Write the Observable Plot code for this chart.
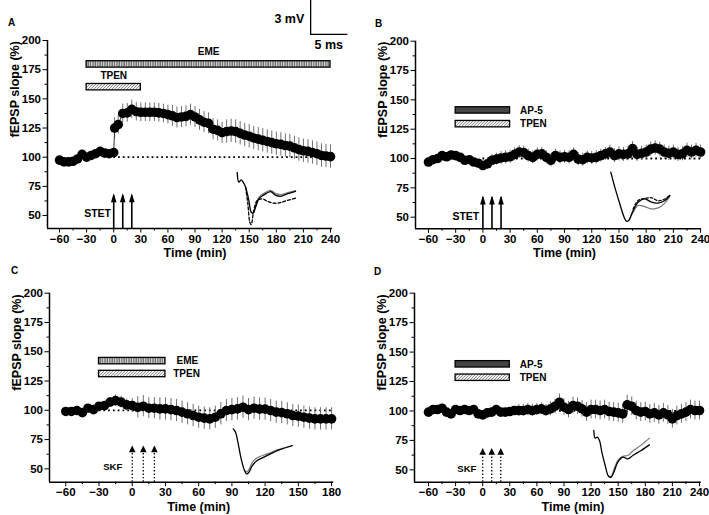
<!DOCTYPE html>
<html><head><meta charset="utf-8">
<script src="https://cdn.jsdelivr.net/npm/d3@7"></script>
<script src="https://cdn.jsdelivr.net/npm/@observablehq/plot@0.6"></script>
<style>
html,body{margin:0;padding:0;background:#fff;}
#wrap{position:relative;width:709px;height:515px;overflow:hidden;font-family:'Liberation Sans',Arial,sans-serif;}
.panel{position:absolute;}
.letter{position:absolute;font-weight:bold;font-size:10px;line-height:1;}
</style></head><body>
<svg width="0" height="0" style="position:absolute">
<defs>
<pattern id="eme" patternUnits="userSpaceOnUse" width="2.4" height="8">
<rect width="2.4" height="8" fill="#6c6c6c"/><rect width="1.1" height="8" fill="#d8d8d8"/>
</pattern>
<pattern id="tpen" patternUnits="userSpaceOnUse" width="3" height="3">
<rect width="3" height="3" fill="#eeeeee"/><path d="M-0.5,3.5 L3.5,-0.5" stroke="#8c8c8c" stroke-width="0.9"/>
</pattern>
</defs></svg>
<div id="wrap"></div>
<script>
// ---------- DATA ----------
// Panel A: STET + EME + TPEN
const tA = [-60,-55,-50,-45,-40,-35,-30,-25,-20,-15,-10,-5,0,1,5,10,15,20,25,30,35,40,45,50,55,60,65,70,75,80,85,90,95,100,105,110,115,120,125,130,135,140,145,150,155,160,165,170,175,180,185,190,195,200,205,210,215,220,225,230,235,240];
const vA = [97.5,96,96,96.5,98.5,102.5,100,101.5,103,105,103.5,103,104,125,128,137.5,138,141,139,138.5,138.5,138.5,138.5,138,137.5,136.5,135.5,134,134.5,135,136.5,134.5,132,130,129,124,123,121,122,122.5,122,120.5,119,118,116.5,115.5,114.5,113.5,112.5,111.5,111,110,109.5,108,106.5,105.5,105,104,103,101.5,101,100.5];
const eA = [2,2,2,2,2.5,2.5,2.5,2.5,3,3,3,3,3,9,8,8,8,8,8,8,8,8,8,8,8,8,9,9,9,9,9,9,9,9,9,9,9,9,10,10,10,10,10,10,10,10,10,10,10,10,10,10,10,10,10,10,10,10,10,10,10,10];
// Panel B: STET + AP-5 + TPEN
const tB = [-60,-55,-50,-45,-40,-35,-30,-25,-20,-15,-10,-5,0,5,10,15,20,25,30,35,40,45,50,55,60,65,70,75,80,85,90,95,100,105,110,115,120,125,130,135,140,145,150,155,160,165,170,175,180,185,190,195,200,205,210,215,220,225,230,235,240];
const vB = [97,99,100,102.5,101.5,103,102.5,101,98.5,99,97,96,94,95.5,98.5,99.5,100.5,101,101.5,103.5,105.5,105,102.5,101,103.5,104,101,98.5,102.5,101,101.5,101,103.5,99.5,99,101,100.5,101,102.5,104,105.5,102.5,104,103.5,104,108.5,103.5,104.5,105.5,108,109,108,105.5,104.5,105.5,103.5,104,107,105.5,107,105.5];
const eB = [2,2,2,2,2,2,2,2,2,2,2.5,2.5,3,5,5,5,5.5,5.5,5.5,5.5,5.5,5.5,5.5,5.5,5.5,5.5,5.5,5.5,5.5,5.5,5.5,5.5,5.5,5.5,5.5,5.5,5.5,5.5,5.5,5.5,6,6,6,6,6,6,6,6,6,6,6,6,6,6,6,6,6,6,6,6,6];
// Panel C: SKF + EME + TPEN
const tC = [-60,-55,-50,-45,-40,-35,-30,-25,-20,-15,-10,-5,0,5,10,15,20,25,30,35,40,45,50,55,60,65,70,75,80,85,90,95,100,105,110,115,120,125,130,135,140,145,150,155,160,165,170,175,180];
const vC = [99,99,99.8,98,101.8,100.6,103.5,104,107,108.3,107,104.6,104,102.6,103.5,101.8,101.8,101.2,101.2,100.6,99.8,98.4,97,95.5,94.1,93.3,92.7,94.1,97,99.8,100.6,101.2,102.6,100.6,101.8,101,101,99.8,98.4,98,97,95.5,95,94.1,93.3,92.7,92.7,92.7,92.7];
const eC = [1.5,1.5,1.5,1.5,2,2,2,2.5,4,5,5,5,6,9,9,9,9,9.5,9.5,9.5,9.5,9.5,9.5,9.5,9.5,9.5,9.5,9.5,9.5,9.5,9.5,9.5,9.5,9.5,9.5,9.5,9.5,9.5,9.5,9.5,9.5,9.5,9.5,9.5,9.5,9.5,9.5,9.5,9.5];
// Panel D: SKF + AP-5 + TPEN
const tD = [-60,-55,-50,-45,-40,-35,-30,-25,-20,-15,-10,-5,0,5,10,15,20,25,30,35,40,45,50,55,60,65,70,75,80,85,90,95,100,105,110,115,120,125,130,135,140,145,150,155,160,165,170,175,180,185,190,195,200,205,210,215,220,225,230,235,240];
const vD = [99,101.2,101.2,102.3,99,97.5,101.2,100.4,101.2,100.4,101.2,97.5,96.7,98.4,99,101.2,99,99,99.5,100.4,100.4,100.4,101.2,100.4,101.2,101.8,100.4,101.8,104,107.4,103.2,101.2,104.6,104,101.8,99,101.2,101.2,100.4,101.2,99.5,99,98.4,97.5,105.2,104,100.4,99,99.5,97.5,98.4,96.7,98.4,96.7,93.3,96.1,97.5,99,101.2,100.4,100.4];
const eD = [2,2,2,2,2,2,2,2,2,2,2,2,2,2,2.5,2.5,2.5,3,3,3,5,5,5,5,5,5,5,6,6,7,7,7,7,7,7,8,8,8,8,8,8,8,8,8,8,8,8,8,8,8,8,8,8,8,8,8,8,8,8,8,8];

// Drug application bars (time from/to, level in %)
const barsA = [{drug:"EME", from:-30, to:240, at:179.5}, {drug:"TPEN", from:-30, to:30, at:160}];
const barsB = [{drug:"AP-5", from:-30, to:30, at:141}, {drug:"TPEN", from:-30, to:30, at:129.3}];
const barsC = [{drug:"EME", from:-30, to:30, at:142}, {drug:"TPEN", from:-30, to:30, at:131}];
const barsD = [{drug:"AP-5", from:-30, to:30, at:139.6}, {drug:"TPEN", from:-30, to:30, at:128.2}];
const labelsA = [{text:"EME", t:105, v:190}, {text:"TPEN", t:0, v:169.5}];
const labelsB = [{text:"AP-5", t:41, v:141}, {text:"TPEN", t:41, v:129.3}];
const labelsC = [{text:"EME", t:40, v:142}, {text:"TPEN", t:37, v:131}];
const labelsD = [{text:"AP-5", t:41, v:139.6}, {text:"TPEN", t:41, v:128.2}];
const barFill = {"EME":"url(#eme)", "TPEN":"url(#tpen)", "AP-5":"#454545"};

// Stimulation
const stimTimes = [0, 10, 20];

// Representative fEPSP traces (drawn in chart units)
const traceA1 = [[136.7,87],[138.5,78.6],[141,80.6],[143.3,78.6],[146,74.3],[149.6,62.9],[152.2,52.9],[154.4,52],[157,57],[160.7,64.3],[166.2,67.7],[173.6,70.5],[179,67.5],[184.6,66.5],[192,68.5],[201.3,70.8]];
const traceA2 = [[152.2,52.9],[154.4,52.5],[157,58],[160.7,65.5],[166.2,69],[173.6,71.5],[179,69],[184.6,68],[192,69.5],[201.3,71.5]];
const traceA3 = [[146,74.3],[148.5,60],[150.7,44.3],[152.2,42.3],[155,54],[158.8,62.9],[164.4,64.3],[170,62.3],[177.3,60.6],[184.6,61.1],[192,62.9],[201.3,64.9]];
const traceB1 = [[141,88.4],[145.4,75.6],[150.9,61.4],[155.7,50],[158.3,46.6],[160.8,47.2],[165.6,55.7],[171.1,62.8],[178.5,65.6],[185.9,62.8],[193.2,62],[200.6,64.2],[206.1,68.5]];
const traceB2 = [[160.8,47.2],[165.6,54],[171.1,59.9],[178.5,59],[185.9,57],[193.2,57.9],[200.6,62],[206.1,68]];
const traceB3 = [[165.6,57],[171.1,64.2],[178.5,66],[185.9,66.5],[193.2,64],[200.6,65.5],[206.1,68.5]];
const traceC1 = [[91.2,84.1],[93.3,81.3],[95.4,72.8],[98.4,58.5],[101.4,48.6],[103.3,45.7],[105.4,47.1],[108.4,52.8],[112.9,57.1],[118.9,60],[124.9,62.8],[131,65.6],[137,67.6],[144.5,69.9]];
const traceC2 = [[101.4,48.6],[103.3,47.5],[105.4,49.5],[108.4,55.5],[112.9,59.5],[118.9,61.8],[124.9,63.8],[131,66.2],[137,68]];
const traceD1 = [[123,83.4],[124.5,76.9],[126.7,77.7],[129.3,74.9],[131.9,65],[135.6,53.7],[139.3,44.6],[142.2,43.8],[145.2,48],[149.6,56.5],[155.1,60.7],[160.7,59.3],[166.2,62.2],[175.4,66.4],[184.6,71.2]];
const traceD2 = [[139.3,44.6],[142.2,44.5],[145.2,50],[149.6,58],[155.1,61.5],[160.7,62.2],[166.2,66],[175.4,71],[184.6,76.9]];

// Scale bar (panel A, chart units)
const scaleBar = [[218,235],[218,205.2],[258,205.2]];
const scaleV = {text:"3 mV", t:211, v:218.5};
const scaleH = {text:"5 ms", t:238, v:196.5};

const xTicks240 = [-60,-30,0,30,60,90,120,150,180,210,240];
const xMinor240 = [-45,-15,15,45,75,105,135,165,195,225];
const xTicks180 = [-60,-30,0,30,60,90,120,150,180];
const xMinor180 = [-45,-15,15,45,75,105,135,165];
const yTicks = [50,75,100,125,150,175,200];
const yMinor = [62.5,87.5,112.5,137.5,162.5,187.5];
const xTitle = "Time (min)";
const yTitle = "fEPSP slope (%)";

// ---------- DRAW ----------
const fmt = d => d < 0 ? "\u2212" + Math.abs(d) : String(d);
const headLong = {draw(ctx){ ctx.moveTo(0,0); ctx.lineTo(2.8,9); ctx.lineTo(-2.8,9); ctx.closePath(); }};
const headShort = {draw(ctx){ ctx.moveTo(0,0); ctx.lineTo(3.3,6.8); ctx.lineTo(-3.3,6.8); ctx.closePath(); }};

function panel(c) {
  const data = c.t.map((t,i) => ({t, v:c.v[i], e:c.e[i]}));
  const x0 = c.xdom[0], y0 = c.ydom[0];
  const traceMark = (tr, opts) => Plot.line(tr, {x: d=>d[0], y: d=>d[1], stroke:"black", strokeWidth:1.3, curve:"catmull-rom", ...opts});
  const marks = [
    Plot.ruleX([x0], {y1:y0, y2:200, strokeWidth:1.5}),
    Plot.ruleY([y0], {x1:x0, x2:c.xdom[1], strokeWidth:1.5}),
    Plot.axisY({ticks:yTicks, tickSize:4.5, tickPadding:2, fontSize:11.5, label:null}),
    Plot.axisY({ticks:yMinor, tickSize:2.5, tickFormat:()=>"", label:null}),
    Plot.axisX({ticks:c.xticks, tickSize:4.5, tickPadding:1.5, tickFormat:fmt, fontSize:11.5, label:null}),
    Plot.axisX({ticks:c.xminor, tickSize:2.5, tickFormat:()=>"", label:null}),
    Plot.text([yTitle], {text:d=>d, frameAnchor:"left", rotate:-90, dx:-33, dy:3, fontSize:12.5, fontWeight:"bold"}),
    Plot.text([xTitle], {text:d=>d, x:c.xlabT, frameAnchor:"bottom", dy:c.xlabOff, fontSize:12.5, fontWeight:"bold"}),
    Plot.ruleY([100], {x1:c.dot[0], x2:c.dot[1], strokeDasharray:"1.8,3", strokeWidth:1.8}),
    Plot.rect(c.bars, {x1:"from", x2:"to", y1:"at", y2:"at", insetTop:-3.2, insetBottom:-3.2, fill:d=>barFill[d.drug], stroke:"black", strokeWidth:1.3}),
    Plot.text(c.labels, {x:"t", y:"v", text:"text", textAnchor:c.labelAnchor, fontSize:10, fontWeight:"bold"}),
    Plot.ruleX(data, {x:"t", y1:d=>d.v-d.e, y2:d=>d.v+d.e, stroke:"#707070", strokeWidth:1}),
    Plot.line(data, {x:"t", y:"v", stroke:"#333", strokeWidth:1}),
    Plot.dot(data, {x:"t", y:"v", r:4.8, fill:"black", stroke:"none"}),
  ];
  c.traces.forEach(([tr, opts]) => marks.push(traceMark(tr, opts)));
  if (c.stim === "STET") {
    marks.push(Plot.ruleX(stimTimes, {x:d=>d, y1:y0, y2:c.tip-2, strokeWidth:1.6}));
    marks.push(Plot.dot(stimTimes, {x:d=>d, y:c.tip, symbol:headLong, fill:"black", stroke:"none"}));
  } else {
    marks.push(Plot.ruleX(stimTimes, {x:d=>d, y1:y0, y2:c.tip-2, strokeWidth:1.3, strokeDasharray:"1.4,2"}));
    marks.push(Plot.dot(stimTimes, {x:d=>d, y:c.tip, symbol:headShort, fill:"black", stroke:"none"}));
  }
  marks.push(Plot.text([c.stimLabel], {x:d=>d.t, y:d=>d.v, text:d=>d.text, textAnchor:"end", fontSize:c.stim==="STET"?10.5:9.5, fontWeight:"bold"}));
  if (c.scale) {
    marks.push(Plot.line(scaleBar, {x:d=>d[0], y:d=>d[1], stroke:"black", strokeWidth:1.3}));
    marks.push(Plot.text([scaleV], {x:"t", y:"v", text:"text", textAnchor:"end", fontSize:12.5, fontWeight:"bold"}));
    marks.push(Plot.text([scaleH], {x:"t", y:"v", text:"text", textAnchor:"middle", fontSize:12.5, fontWeight:"bold"}));
  }
  return Plot.plot({
    width:c.width, height:c.height,
    marginLeft:c.m[3], marginRight:c.m[1], marginTop:c.m[0], marginBottom:c.m[2],
    x:{domain:c.xdom}, y:{domain:c.ydom},
    color:{type:"identity"},
    style:{fontFamily:"'Liberation Sans', Arial, sans-serif", fontWeight:"bold", background:"transparent", overflow:"visible", color:"black"},
    marks
  });
}

const configs = [
  {id:"A", left:0, top:0, width:354, height:262, m:[40,22,34,47], xdom:[-73.3,242.2], ydom:[38.9,200], xlabOff:28.5, xlabT:90,
   t:tA, v:vA, e:eA, xticks:xTicks240, xminor:xMinor240, dot:[0,240], bars:barsA, labels:labelsA, labelAnchor:"middle",
   traces:[[traceA2,{stroke:"#777",strokeWidth:1.2}],[traceA1,{}],[traceA3,{strokeDasharray:"3,2"}]],
   stim:"STET", tip:69, stimLabel:{text:"STET", t:-3, v:52}, scale:true, letter:[8,18]},
  {id:"B", left:354, top:0, width:355, height:262, m:[40.7,8,33.7,61], xdom:[-74.3,241], ydom:[40.1,200], xlabOff:28.5, xlabT:90,
   t:tB, v:vB, e:eB, xticks:xTicks240, xminor:xMinor240, dot:[0,240], bars:barsB, labels:labelsB, labelAnchor:"start",
   traces:[[traceB2,{stroke:"#777",strokeWidth:1.2}],[traceB3,{strokeDasharray:"2.5,2"}],[traceB1,{}]],
   stim:"STET", tip:68.5, stimLabel:{text:"STET", t:-4, v:50.3}, scale:false, letter:[375,19]},
  {id:"C", left:0, top:262, width:354, height:253, m:[30.7,20.7,33.3,49], xdom:[-74.7,182], ydom:[38.6,200], xlabOff:28.5, xlabT:60,
   t:tC, v:vC, e:eC, xticks:xTicks180, xminor:xMinor180, dot:[-30,180], bars:barsC, labels:labelsC, labelAnchor:"start",
   traces:[[traceC2,{stroke:"#777",strokeWidth:1.2}],[traceC1,{}]],
   stim:"SKF", tip:70, stimLabel:{text:"SKF", t:-9, v:51.4}, scale:false, letter:[11,266]},
  {id:"D", left:354, top:262, width:355, height:253, m:[30.7,8.3,33.3,60], xdom:[-75.5,241.9], ydom:[39.5,200], xlabOff:28.5, xlabT:100,
   t:tD, v:vD, e:eD, xticks:xTicks240, xminor:xMinor240, dot:[0,240], bars:barsD, labels:labelsD, labelAnchor:"start",
   traces:[[traceD2,{stroke:"#777",strokeWidth:1.2}],[traceD1,{}]],
   stim:"SKF", tip:68.5, stimLabel:{text:"SKF", t:-7, v:51}, scale:false, letter:[374,267]},
];

const wrap = document.getElementById("wrap");
for (const c of configs) {
  const div = document.createElement("div");
  div.className = "panel";
  div.style.left = c.left + "px"; div.style.top = c.top + "px";
  div.appendChild(panel(c));
  wrap.appendChild(div);
  const L = document.createElement("div");
  L.className = "letter";
  L.style.left = c.letter[0] + "px"; L.style.top = c.letter[1] + "px";
  L.textContent = c.id;
  wrap.appendChild(L);
}
</script>
</body></html>
